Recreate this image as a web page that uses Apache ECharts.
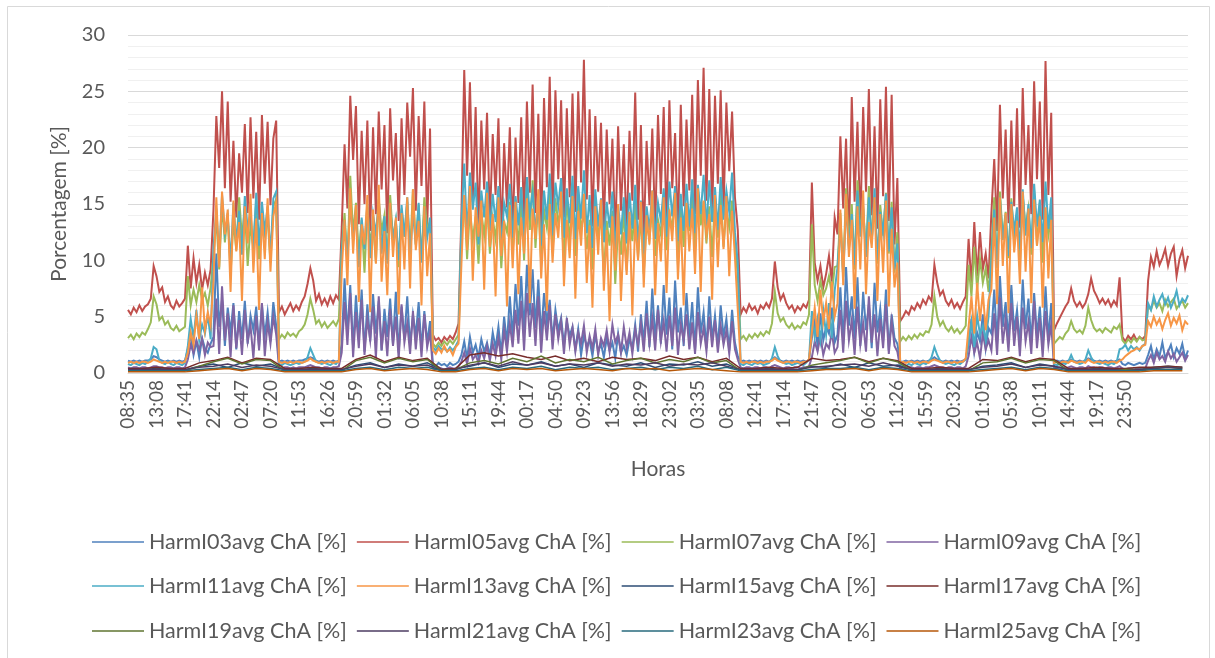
<!DOCTYPE html>
<html>
<head>
<meta charset="utf-8">
<script src="https://cdn.jsdelivr.net/npm/echarts@6/dist/echarts.min.js"></script>
<style>
html,body{margin:0;padding:0;background:#fff;}
#chart{width:1215px;height:658px;}
</style>
</head>
<body>
<div id="chart"></div>
<script>
// ---- time base ----
const startTime = '08:35';          // first sample
const labelStepMin = 273;           // minutes between axis labels (04:33)
const lastLabelMin = 9555;          // 23:50 is the last label drawn
const mainStepMin = 27.3;           // sample spacing of main series (minutes)
const minorStepMin = 136.5;         // sample spacing of small series (minutes)

const seriesNames = ['HarmI03avg ChA [%]','HarmI05avg ChA [%]','HarmI07avg ChA [%]','HarmI09avg ChA [%]',
  'HarmI11avg ChA [%]','HarmI13avg ChA [%]','HarmI15avg ChA [%]','HarmI17avg ChA [%]',
  'HarmI19avg ChA [%]','HarmI21avg ChA [%]','HarmI23avg ChA [%]','HarmI25avg ChA [%]'];

// ---- values ----
const harm03 = [1.1,1.0,1.1,1.0,1.1,1.0,1.1,1.1,1.2,1.5,1.4,1.2,1.1,1.0,1.1,1.0,1.1,1.0,1.1,1.0,1.1,
2.1,3.4,1.6,2.8,1.4,3.1,2.2,1.8,2.6,
3.2,10.6,4.1,6.5,2.4,5.8,3.6,6.2,2.1,5.5,3.0,6.4,2.6,5.1,3.8,5.9,2.3,6.1,3.3,5.4,2.8,6.3,4.2,
1.0,1.1,1.0,1.1,1.0,1.1,1.0,1.1,1.1,1.2,1.3,1.4,1.3,1.1,1.0,1.1,1.0,1.1,1.0,1.1,1.0,1.1,
2.6,8.4,3.4,7.8,2.2,6.9,3.1,7.4,1.9,6.1,2.8,7.0,3.5,6.4,2.0,5.7,3.2,6.6,2.5,7.2,1.8,5.9,3.0,6.8,2.4,5.2,3.3,6.3,2.1,5.5,2.7,4.6,
0.8,0.6,0.9,0.7,0.8,0.6,0.9,0.7,0.8,1.0,
1.6,2.8,1.3,3.2,1.8,2.5,1.4,3.0,1.9,2.7,
1.5,3.6,2.2,4.1,1.7,5.0,2.6,6.8,3.1,7.9,
4.2,8.6,3.5,9.6,5.1,9.2,4.0,8.3,3.2,7.1,
4.4,6.5,2.9,5.6,3.8,4.9,2.5,4.6,3.3,4.1,
2.1,3.9,1.6,3.3,2.4,2.9,1.5,3.4,1.9,2.6,
1.4,3.1,2.0,2.7,1.3,3.5,1.8,2.4,1.6,3.0,
2.2,4.3,1.9,5.2,2.7,6.4,2.3,7.5,3.0,6.0,
2.6,7.8,3.4,6.7,2.1,8.2,3.6,5.8,2.4,7.1,
3.1,6.3,2.0,7.6,3.5,5.4,2.2,6.8,2.9,5.1,
2.3,6.0,3.2,4.8,2.0,5.6,2.7,1.5,
1.0,1.1,1.0,1.1,1.0,1.1,1.0,1.1,1.0,1.1,1.0,1.2,1.4,1.2,1.1,1.0,1.1,1.0,1.1,1.0,1.1,1.0,1.1,1.0,1.2,
3.1,4.6,2.4,5.3,2.9,4.1,3.5,5.8,2.7,
3.4,7.6,2.6,9.4,4.2,6.8,3.0,8.5,2.4,7.2,3.8,6.1,2.2,8.0,3.6,5.7,2.8,7.4,2.0,5.2,3.1,2.6,
1.0,1.0,1.1,1.0,1.1,1.0,1.1,1.0,1.1,1.0,1.1,1.2,1.4,1.2,1.1,1.0,1.1,1.0,1.1,1.0,1.1,1.0,1.1,1.2,
2.5,4.8,1.9,3.6,2.8,5.2,2.2,4.0,
3.5,7.4,2.6,8.6,4.1,6.3,2.9,7.8,3.7,5.6,2.3,8.3,3.9,6.6,2.7,7.1,3.3,5.9,2.1,7.7,3.0,6.2,
1.0,1.1,1.0,1.1,1.0,1.1,1.2,1.1,1.0,1.1,1.0,1.1,1.3,1.2,1.1,1.0,1.1,1.0,1.1,1.0,1.1,1.0,1.1,1.2,
0.8,0.7,0.9,0.8,0.7,0.8,0.9,0.8,0.9,
1.6,2.4,1.2,2.1,1.5,2.7,1.3,1.9,2.5,1.4,2.2,1.7,2.6,1.3,2.0];

const harm05 = [5.6,5.2,5.8,5.4,6.0,5.5,5.9,6.1,6.6,9.5,8.6,7.2,7.6,6.3,6.8,6.0,5.7,6.4,5.9,6.2,6.6,
11.3,7.5,10.2,8.0,9.6,7.4,8.9,7.8,9.2,
14.5,22.8,18.2,25.0,16.4,24.1,15.2,20.6,13.8,19.5,16.0,22.1,14.2,22.7,15.5,21.4,13.6,22.9,16.8,22.3,14.9,20.8,22.4,
5.4,5.9,5.2,5.7,6.2,5.5,6.0,5.6,6.3,6.8,7.9,9.3,8.2,6.4,7.0,6.1,6.6,6.0,6.8,6.2,6.9,6.5,
12.8,20.3,14.6,24.6,18.9,23.7,13.2,21.5,15.0,22.4,12.6,21.8,14.1,23.2,16.3,22.0,12.4,23.5,17.1,21.3,13.5,22.6,15.8,24.0,19.2,25.3,14.4,22.8,16.6,24.1,13.1,21.7,
3.4,2.9,3.1,2.7,3.2,2.9,3.3,3.0,3.6,4.4,
14.0,26.9,17.5,25.8,15.2,23.6,12.8,22.4,16.3,23.1,
13.4,21.2,15.8,22.6,11.9,20.4,14.7,21.8,12.5,20.9,
15.1,22.7,13.3,24.1,16.0,25.6,14.2,23.0,12.6,24.4,
16.5,26.3,14.0,25.1,17.2,24.2,13.8,23.5,15.6,24.8,
14.3,25.0,16.9,27.8,15.4,23.4,13.0,22.8,16.1,22.2,
12.9,21.6,15.0,20.8,11.7,21.9,14.4,20.3,12.2,21.5,
15.3,24.9,13.6,22.0,11.8,20.6,14.9,21.7,12.7,22.9,
15.9,23.6,13.1,24.2,16.4,21.3,12.4,23.8,14.8,22.5,
16.2,24.7,14.1,26.0,17.5,27.1,15.3,25.2,13.9,24.6,
16.8,25.1,14.5,24.0,17.9,23.2,15.6,12.7,
5.2,5.8,5.4,6.1,5.6,5.9,5.3,6.0,5.7,6.2,5.8,6.6,9.9,7.6,6.5,7.0,6.2,5.7,6.0,5.4,5.9,5.6,6.1,5.8,6.5,
16.9,9.8,8.2,9.5,7.6,8.8,10.4,8.1,13.8,
12.3,21.0,14.6,20.8,11.5,24.5,15.2,22.3,13.0,23.6,16.1,25.2,14.0,21.9,12.8,24.3,15.7,25.4,13.5,24.7,11.4,17.3,
4.6,5.0,5.5,5.2,5.9,5.6,6.2,5.8,6.5,6.1,6.8,6.4,9.6,8.0,6.9,7.3,6.4,6.0,6.5,5.8,6.2,5.7,6.3,6.8,
11.9,7.8,13.4,8.6,12.5,9.2,10.6,8.4,
14.2,19.0,12.6,23.8,15.5,21.6,13.3,22.4,14.8,23.5,12.9,25.3,16.7,22.0,14.1,25.9,17.2,24.1,13.6,27.7,15.8,23.1,
3.8,4.4,4.9,5.4,5.9,6.3,7.5,6.4,5.9,6.3,5.8,6.2,7.0,8.4,7.3,6.8,6.2,6.6,6.1,6.5,5.9,6.4,6.0,8.5,
3.2,2.8,3.3,3.0,3.4,2.9,3.2,3.0,3.3,
8.2,10.3,9.4,10.8,9.6,10.2,11.0,9.5,10.6,11.2,8.6,10.1,10.9,9.3,10.4];

const harm07 = [3.1,3.4,3.0,3.5,3.2,3.6,3.4,3.9,4.5,6.8,6.1,4.7,5.0,4.3,4.6,4.0,3.8,4.2,3.7,3.9,4.1,
8.6,6.0,7.4,6.3,7.8,6.5,7.1,6.0,7.6,
10.5,13.8,9.2,15.0,11.6,14.2,8.8,13.5,10.9,15.6,12.0,14.6,9.5,13.1,11.2,15.3,10.1,14.0,12.4,13.7,9.8,14.8,15.4,
3.0,3.4,3.1,3.6,3.3,3.5,3.2,3.7,3.9,4.3,5.2,6.6,5.6,4.4,4.7,4.1,4.5,4.0,4.3,4.6,4.2,4.8,
11.0,14.2,9.6,17.5,12.3,15.1,10.4,13.6,8.9,14.7,11.5,13.2,9.8,15.4,12.6,14.0,10.2,15.8,11.9,13.5,9.4,14.6,12.1,15.2,10.7,16.3,11.4,14.9,9.9,15.6,12.8,13.4,
2.6,2.3,2.7,2.4,2.8,2.5,2.9,2.6,3.0,3.4,
12.4,15.8,10.1,14.6,11.8,13.9,9.7,14.3,12.2,15.0,
10.6,13.7,11.9,14.8,9.3,13.4,12.5,15.2,10.8,14.1,
11.4,15.6,10.0,16.8,12.7,17.1,11.1,15.4,9.8,14.5,
12.9,16.2,10.7,15.5,13.3,14.7,9.9,15.8,11.6,14.9,
10.4,15.3,12.8,14.2,11.0,13.6,9.2,14.8,12.1,13.9,
8.6,13.5,11.3,14.4,7.9,13.1,10.5,14.6,9.1,13.8,
11.7,15.1,10.2,14.0,8.8,13.3,11.9,14.7,10.4,13.6,
12.3,15.4,10.9,14.2,12.8,15.7,9.6,14.9,11.2,15.0,
12.6,15.9,10.8,16.4,13.1,15.2,11.5,14.8,10.3,15.5,
12.0,16.1,11.2,14.6,12.9,15.3,11.7,8.6,
3.0,3.3,2.9,3.4,3.1,3.5,3.2,3.6,3.3,3.7,3.5,4.4,7.2,5.3,4.6,4.9,4.3,4.0,4.4,3.9,4.2,4.0,4.5,4.3,5.2,
13.2,7.8,6.4,8.2,6.9,7.5,8.6,7.0,9.4,
9.5,14.2,8.6,16.4,11.3,15.0,9.2,17.1,12.5,14.6,10.4,16.6,11.8,15.3,9.7,14.9,12.2,16.0,10.6,15.2,8.9,12.5,
2.8,3.2,2.9,3.3,3.0,3.4,3.1,3.5,3.3,3.7,3.6,4.3,6.8,5.0,4.2,4.6,4.0,3.7,4.1,3.6,3.9,3.5,3.8,4.2,
9.6,6.8,11.2,7.4,10.1,8.0,9.3,7.2,
10.8,15.6,9.4,16.1,12.0,14.3,10.2,15.5,11.7,14.0,9.6,15.8,12.9,14.6,10.5,16.2,11.3,15.1,9.8,14.4,12.2,13.9,
2.6,2.9,3.2,3.0,3.5,3.8,4.6,3.9,3.6,3.8,3.5,4.2,5.8,4.7,4.0,3.7,3.9,3.6,4.0,3.8,3.6,4.1,3.9,4.3,
2.9,2.6,3.0,2.7,3.1,2.8,3.2,2.9,3.0,
6.0,5.6,6.4,5.8,6.2,5.5,6.5,5.9,6.3,6.6,5.7,6.1,6.4,5.8,6.2];

const harm09 = [0.5,0.4,0.5,0.5,0.4,0.5,0.5,0.4,0.5,0.6,0.6,0.5,0.5,0.4,0.5,0.5,0.4,0.5,0.5,0.4,0.5,
1.2,2.5,1.8,2.9,2.1,3.0,1.6,2.7,2.3,
2.4,6.6,1.7,7.7,2.9,5.3,1.4,6.0,2.2,4.7,1.6,5.6,2.8,4.2,1.3,5.1,2.0,6.2,1.5,4.5,2.6,5.0,3.4,
0.5,0.4,0.5,0.5,0.4,0.5,0.4,0.5,0.5,0.5,0.6,0.7,0.6,0.5,0.5,0.4,0.5,0.5,0.4,0.5,0.5,0.6,
1.8,6.3,2.5,7.1,1.4,5.4,2.2,6.5,1.6,4.8,2.9,5.9,1.3,6.8,2.0,4.6,1.5,5.7,2.4,5.0,1.2,6.1,2.7,4.4,1.7,5.5,2.1,4.9,1.4,5.2,2.3,3.6,
0.4,0.3,0.5,0.4,0.3,0.4,0.5,0.4,0.4,0.6,
1.0,1.8,0.8,2.2,1.2,1.6,0.9,2.0,1.3,2.4,
1.1,2.6,1.5,3.1,1.2,3.8,1.9,4.4,2.3,5.6,
2.6,6.4,2.0,7.1,3.2,6.2,2.4,6.8,1.8,5.5,
2.9,6.0,2.1,5.2,3.0,4.6,1.7,4.9,2.5,4.0,
1.9,3.6,2.6,4.2,1.8,3.3,2.2,3.9,1.6,3.1,
2.4,3.8,1.9,4.3,2.7,3.4,1.8,4.1,2.3,3.6,
1.7,3.9,2.5,4.4,1.9,5.3,2.6,4.8,2.0,5.6,
2.8,4.6,1.9,5.1,2.4,5.8,1.6,4.3,2.9,5.2,
2.1,4.5,1.7,5.4,2.6,4.0,1.9,5.0,2.3,4.7,
1.8,4.2,2.5,3.8,1.7,4.6,2.1,1.2,
0.5,0.4,0.5,0.5,0.4,0.5,0.5,0.4,0.5,0.5,0.4,0.6,0.7,0.6,0.5,0.4,0.5,0.5,0.4,0.5,0.5,0.4,0.5,0.5,0.6,
1.4,2.8,1.9,3.3,1.6,2.6,2.2,3.6,1.8,
2.3,5.6,1.8,6.4,2.9,4.7,1.6,5.9,2.5,4.4,1.9,6.8,2.7,5.2,1.5,4.8,2.2,6.1,1.7,4.6,2.4,1.9,
0.4,0.5,0.4,0.5,0.5,0.4,0.5,0.5,0.4,0.5,0.5,0.6,0.7,0.6,0.5,0.5,0.4,0.5,0.5,0.4,0.5,0.5,0.4,0.6,
1.5,3.2,1.8,2.7,1.3,3.5,2.1,2.9,
2.0,5.3,1.6,6.7,2.6,4.8,1.9,6.2,2.4,5.0,1.5,5.8,2.8,4.5,1.7,6.4,2.2,4.9,1.4,5.5,2.5,4.3,
0.5,0.4,0.5,0.5,0.4,0.5,0.6,0.5,0.4,0.5,0.5,0.4,0.6,0.5,0.5,0.4,0.5,0.5,0.4,0.5,0.5,0.4,0.5,0.6,
0.4,0.3,0.4,0.4,0.3,0.4,0.4,0.3,0.4,
1.1,1.6,0.9,1.8,1.2,1.5,1.0,1.9,1.3,1.7,1.0,1.4,1.8,1.1,1.6];

const harm11 = [0.8,0.7,0.9,0.8,0.7,0.9,0.8,1.0,1.3,2.3,2.1,1.1,0.9,0.8,1.0,0.8,0.7,0.9,0.8,0.7,0.9,
2.4,4.8,3.1,5.6,2.9,4.3,3.5,5.2,3.0,
11.0,14.6,10.2,15.8,12.4,13.9,9.8,15.1,11.6,14.4,10.5,15.7,12.8,14.2,10.9,16.0,11.3,15.2,12.6,14.8,10.4,15.5,16.1,
0.8,0.7,0.9,0.8,0.7,0.8,0.9,0.8,0.9,1.0,1.4,2.2,1.6,1.0,0.9,0.8,0.9,0.8,0.7,0.9,0.8,1.1,
10.8,13.5,9.9,15.2,11.7,14.3,9.4,13.8,11.0,15.0,10.2,14.1,12.3,15.4,10.6,13.9,9.7,14.8,11.8,13.6,10.0,14.9,12.1,15.6,10.5,14.2,11.4,15.1,9.8,14.6,12.0,13.8,
2.3,2.0,2.4,2.1,2.2,1.9,2.3,2.0,2.4,2.9,
13.2,18.6,12.1,17.8,14.5,16.9,11.4,16.2,13.8,17.0,
12.6,15.9,13.4,16.6,11.2,15.1,13.9,16.8,12.0,15.7,
13.1,16.5,11.8,17.4,14.2,16.1,12.5,15.4,11.3,16.2,
13.6,17.7,12.2,16.9,14.8,17.3,12.0,16.4,13.3,17.5,
11.9,16.6,13.7,18.0,12.4,15.8,11.1,16.3,13.0,15.5,
11.6,15.2,12.9,16.1,10.8,14.9,12.3,15.6,11.5,16.0,
12.8,16.7,11.4,15.3,10.6,14.8,12.7,16.2,11.9,15.1,
13.5,16.4,12.1,17.0,13.9,16.6,11.7,15.9,12.6,16.8,
13.0,17.2,12.4,16.7,14.1,17.6,12.9,17.1,13.4,16.5,
12.7,17.4,13.6,16.2,14.3,17.8,12.5,9.8,
0.8,0.7,0.9,0.8,0.7,0.9,0.8,0.9,0.7,0.8,0.9,1.3,2.3,1.5,1.0,0.9,0.8,0.9,0.7,0.8,0.9,0.8,0.7,0.9,1.2,
5.5,3.2,4.8,2.9,5.6,3.4,6.2,3.1,7.3,
9.4,13.2,8.5,15.0,11.0,14.1,9.6,16.2,12.1,14.8,10.3,15.6,11.5,16.4,10.0,14.3,12.4,15.9,10.8,14.7,9.2,11.5,
0.7,0.8,0.6,0.8,0.7,0.9,0.8,0.7,0.9,0.8,1.0,1.4,2.3,1.6,1.1,0.9,0.8,0.9,0.8,0.7,0.9,0.8,1.0,1.2,
2.8,4.6,2.3,5.1,3.4,4.2,2.9,5.0,
10.1,14.5,9.3,15.6,11.8,14.0,10.4,15.2,12.6,14.7,10.9,16.3,12.2,15.0,11.1,16.8,13.0,15.4,11.6,17.0,12.8,15.6,
0.8,0.7,0.8,0.9,0.8,1.0,1.6,1.0,0.9,0.8,0.9,1.2,2.0,1.4,1.0,0.9,0.8,0.9,0.8,0.7,0.9,0.8,1.0,2.1,
2.2,2.5,2.0,2.4,2.1,2.3,2.0,2.4,2.6,
6.2,5.6,6.8,5.9,6.5,7.0,6.1,6.7,5.8,6.4,7.3,6.0,6.6,6.3,6.9];

const harm13 = [0.9,1.0,0.9,1.0,0.9,1.0,1.0,0.9,1.0,1.2,1.1,1.0,0.9,1.0,0.9,1.0,1.0,0.9,1.0,0.9,1.0,
1.8,3.6,2.5,5.1,3.0,7.6,3.8,5.4,4.2,
8.2,15.6,9.4,16.1,12.3,14.5,7.2,15.3,10.8,13.4,6.4,14.8,11.5,15.9,8.9,13.7,5.6,14.2,10.1,15.5,9.0,13.9,15.2,
1.0,0.9,1.0,0.9,1.0,0.9,1.0,1.0,0.9,1.0,1.1,1.3,1.1,1.0,0.9,1.0,0.9,1.0,1.0,0.9,1.0,1.0,
9.0,13.6,7.8,16.4,10.6,14.9,6.3,13.2,11.4,15.8,5.4,14.5,9.7,16.7,8.1,12.6,6.9,15.1,10.3,13.8,5.2,14.2,9.2,15.6,7.5,16.3,10.9,13.5,6.0,14.8,8.6,12.4,
2.0,1.7,2.2,1.8,2.4,1.9,2.1,1.6,2.3,2.6,
9.6,15.8,10.9,16.6,8.2,14.7,12.1,15.3,7.4,16.0,
11.2,14.1,6.8,15.6,10.4,13.5,5.9,14.9,9.3,15.2,
7.0,13.8,10.6,15.5,6.2,14.6,11.9,16.3,8.4,13.2,
5.5,15.0,9.8,14.2,12.0,16.1,7.7,13.6,10.2,15.7,
6.6,14.4,11.3,15.9,8.0,13.1,5.8,14.8,10.5,15.4,
7.3,12.7,4.6,13.9,9.1,15.0,6.4,12.5,8.7,14.3,
5.1,13.6,10.0,15.2,7.6,14.0,11.4,16.2,6.9,13.3,
9.9,15.6,7.1,14.5,11.7,16.0,8.3,13.8,6.0,15.1,
10.8,14.6,8.8,16.4,7.2,15.3,12.2,14.1,6.5,15.8,
9.4,14.9,11.0,15.7,8.6,14.4,10.3,5.6,
1.0,0.9,1.0,0.9,1.0,1.0,0.9,1.0,0.9,1.0,1.0,1.1,1.3,1.1,1.0,0.9,1.0,1.0,0.9,1.0,1.0,0.9,1.0,1.0,1.2,
3.6,5.8,3.2,7.4,4.5,6.2,3.9,8.1,5.0,
6.2,14.5,7.8,15.9,10.3,13.6,5.7,14.8,9.2,16.2,7.0,13.4,11.1,15.6,6.4,14.1,8.9,15.3,5.9,12.8,7.6,9.8,
0.9,1.0,0.9,1.0,1.0,0.9,1.0,0.9,1.0,1.0,0.9,1.1,1.2,1.1,1.0,0.9,1.0,1.0,0.9,1.0,0.9,1.0,1.0,1.3,
4.1,6.8,3.5,8.0,4.6,7.2,3.8,6.5,
7.4,13.8,6.1,15.6,9.5,14.2,5.3,15.0,10.7,13.5,7.9,16.1,9.0,14.6,6.2,15.4,11.3,13.9,5.8,14.7,8.4,13.6,
0.9,1.0,0.9,1.0,1.0,0.9,1.1,1.0,0.9,1.0,1.0,0.9,1.2,1.0,0.9,1.0,1.0,0.9,1.0,0.9,1.0,1.0,0.9,1.1,
1.2,1.5,1.7,1.9,2.0,2.2,2.1,2.4,2.5,
4.6,4.1,5.0,4.3,4.8,3.9,4.7,5.3,4.2,4.9,4.4,5.1,3.8,4.6,4.3];

const harm15 = [0.3,0.3,0.4,0.3,0.3, 0.6, 0.8,0.5,0.9,0.6,0.8, 0.3,0.3,0.4,0.3,0.3, 0.7,0.9,0.5,0.8,0.6,0.9, 0.3,0.4,
0.6,0.9,0.5,0.8,0.7,1.0,0.6,0.8,0.5,0.9,0.7,0.6,0.9,0.5,0.8,0.7,1.0,0.6,0.8,
0.3,0.3,0.4,0.3,0.3, 0.6,0.5, 0.8,0.5,0.9,0.6,0.7, 0.3,0.3,0.4,0.3,0.3, 0.6, 0.7,0.9,0.5,0.8,0.6, 0.3,0.3,0.4,0.3, 0.3,0.3, 0.5,0.6,0.5];
const harm17 = [0.4,0.4,0.5,0.4,0.4, 0.9, 1.1,1.4,0.9,1.3,1.2, 0.4,0.4,0.5,0.4,0.4, 1.2,1.6,1.0,1.4,1.1,1.3, 0.3,0.4,
1.6,1.8,1.5,1.7,1.4,1.2,1.5,1.1,1.3,1.0,1.4,1.2,1.3,1.1,1.5,1.2,1.4,1.0,1.3,
0.4,0.4,0.5,0.4,0.5, 1.3,1.1, 1.2,1.4,1.0,1.3,1.1, 0.4,0.4,0.5,0.4,0.4, 1.2, 1.1,1.4,1.0,1.3,1.2, 0.4,0.4,0.5,0.4, 0.4,0.5, 0.5,0.6,0.5];
const harm19 = [0.2,0.2,0.3,0.2,0.2, 0.6, 1.0,1.3,0.8,1.2,1.1, 0.2,0.2,0.3,0.2,0.2, 1.1,1.4,0.9,1.3,1.0,1.2, 0.2,0.3,
0.9,1.1,0.8,1.3,1.0,1.5,0.9,1.2,1.0,1.4,0.8,1.1,1.3,0.9,1.2,1.0,1.4,0.9,1.1,
0.2,0.2,0.3,0.2,0.2, 0.7,0.9, 1.1,1.4,0.9,1.3,1.0, 0.2,0.2,0.3,0.2,0.2, 0.9, 1.0,1.3,0.9,1.2,1.1, 0.2,0.2,0.3,0.2, 0.3,0.3, 0.4,0.5,0.4];
const harm21 = [0.3,0.3,0.3,0.3,0.3, 0.5, 0.6,0.8,0.5,0.7,0.6, 0.3,0.3,0.3,0.3,0.3, 0.6,0.8,0.5,0.7,0.6,0.7, 0.2,0.3,
0.7,0.9,0.6,1.0,0.7,0.9,0.6,0.8,0.7,0.9,0.6,0.8,0.7,0.9,0.6,0.8,0.7,0.9,0.6,
0.3,0.3,0.3,0.3,0.3, 0.5,0.6, 0.7,0.8,0.6,0.9,0.6, 0.3,0.3,0.3,0.3,0.3, 0.5, 0.6,0.8,0.5,0.7,0.6, 0.3,0.3,0.3,0.3, 0.2,0.3, 0.4,0.5,0.4];
const harm23 = [0.2,0.2,0.2,0.2,0.2, 0.3, 0.4,0.5,0.3,0.5,0.4, 0.2,0.2,0.2,0.2,0.2, 0.4,0.5,0.3,0.5,0.4,0.5, 0.2,0.2,
0.4,0.5,0.3,0.5,0.4,0.6,0.3,0.5,0.4,0.5,0.3,0.4,0.5,0.3,0.5,0.4,0.6,0.3,0.5,
0.2,0.2,0.2,0.2,0.2, 0.3,0.4, 0.4,0.5,0.3,0.5,0.4, 0.2,0.2,0.2,0.2,0.2, 0.3, 0.4,0.5,0.3,0.5,0.4, 0.2,0.2,0.2,0.2, 0.2,0.2, 0.3,0.3,0.3];
const harm25 = [0.1,0.1,0.1,0.1,0.1, 0.2, 0.3,0.4,0.2,0.4,0.3, 0.1,0.1,0.1,0.1,0.1, 0.3,0.4,0.2,0.3,0.4,0.3, 0.1,0.1,
0.3,0.4,0.2,0.4,0.3,0.4,0.2,0.3,0.4,0.3,0.2,0.4,0.3,0.4,0.2,0.3,0.4,0.3,0.2,
0.1,0.1,0.1,0.1,0.1, 0.2,0.3, 0.3,0.4,0.2,0.4,0.3, 0.1,0.1,0.1,0.1,0.1, 0.2, 0.3,0.4,0.2,0.4,0.3, 0.1,0.1,0.1,0.1, 0.1,0.1, 0.2,0.2,0.2];

const seriesValues = [harm03,harm05,harm07,harm09,harm11,harm13,harm15,harm17,harm19,harm21,harm23,harm25];
const seriesSteps = [mainStepMin,mainStepMin,mainStepMin,mainStepMin,mainStepMin,mainStepMin,
  minorStepMin,minorStepMin,minorStepMin,minorStepMin,minorStepMin,minorStepMin];
const seriesColors = ['#4F81BD','#C0504D','#9BBB59','#8064A2','#4BACC6','#F79646',
  '#2C4D75','#772C2A','#5F7530','#4D3B62','#276A7C','#B65708'];

// ---- build ----
const startMin = parseInt(startTime.slice(0,2))*60 + parseInt(startTime.slice(3,5));
const xMax = (harm05.length - 1) * mainStepMin;
function fmtTime(v){
  if (v > lastLabelMin + 1) return '';
  const t = (startMin + Math.round(v)) % 1440;
  const h = Math.floor(t/60), m = t%60;
  return (h<10?'0':'')+h+':'+(m<10?'0':'')+m;
}
const FONT = 'Lato';
const GREY = '#595959';

const series = seriesNames.map((name,k)=>({
  name: name,
  type: 'line',
  symbol: 'none',
  showSymbol: false,
  animation: false,
  color: seriesColors[k],
  lineStyle: {width: k < 6 ? 2.0 : 1.5, color: seriesColors[k], join: 'miter'},
  data: seriesValues[k].map((v,i)=>[i*seriesSteps[k], v])
}));

const rowTops = [531, 575, 620];
const legends = [0,1,2].map(r=>({
  data: seriesNames.slice(r*4, r*4+4),
  left: 92, top: rowTops[r], padding: 0,
  orient: 'horizontal',
  icon: 'rect', itemWidth: 52, itemHeight: 1.5, itemGap: 10,
  selectedMode: false,
  textStyle: {fontFamily: FONT, fontSize: 21.5, color: GREY, width: 199}
}));

const chart = echarts.init(document.getElementById('chart'), null, {renderer:'canvas'});
chart.setOption({
  animation: false,
  backgroundColor: '#ffffff',
  grid: {left: 128, right: 27, top: 35, bottom: 285, containLabel: false},
  graphic: [
    {type:'rect', shape:{x:7.5, y:6.5, width:1202, height:660}, style:{fill:null, stroke:'#d9d9d9', lineWidth:1}, silent:true},
    {type:'text', x:607, y:-22, style:{text:'Gráfico 8 – Comportamento da distorção harmônica individual para a corrente', font:'bold 22px Lato', fill:'#000', textAlign:'center', textVerticalAlign:'top'}, silent:true}
  ],
  legend: legends,
  xAxis: {
    type: 'value', min: 0, max: xMax, interval: labelStepMin,
    name: 'Horas', nameLocation: 'middle', nameGap: 86,
    nameTextStyle: {fontFamily: FONT, fontSize: 21, color: GREY},
    axisLine: {show: true, lineStyle: {color: '#d9d9d9', width: 1}},
    axisTick: {show: false},
    splitLine: {show: false},
    axisLabel: {rotate: 90, margin: 7, fontFamily: FONT, fontSize: 19, color: GREY, formatter: fmtTime, showMaxLabel: false}
  },
  yAxis: {
    type: 'value', min: 0, max: 30, interval: 5,
    name: 'Porcentagem [%]', nameLocation: 'middle', nameGap: 58, nameRotate: 90,
    nameTextStyle: {fontFamily: FONT, fontSize: 21, color: GREY},
    axisLine: {show: false}, axisTick: {show: false},
    axisLabel: {margin: 23, fontFamily: FONT, fontSize: 20, color: GREY},
    splitLine: {show: true, lineStyle: {color: '#d9d9d9', width: 1}},
    minorTick: {show: false, splitNumber: 5},
    minorSplitLine: {show: true, lineStyle: {color: '#f0f0f0', width: 1}}
  },
  series: series
});
</script>
</body>
</html>
